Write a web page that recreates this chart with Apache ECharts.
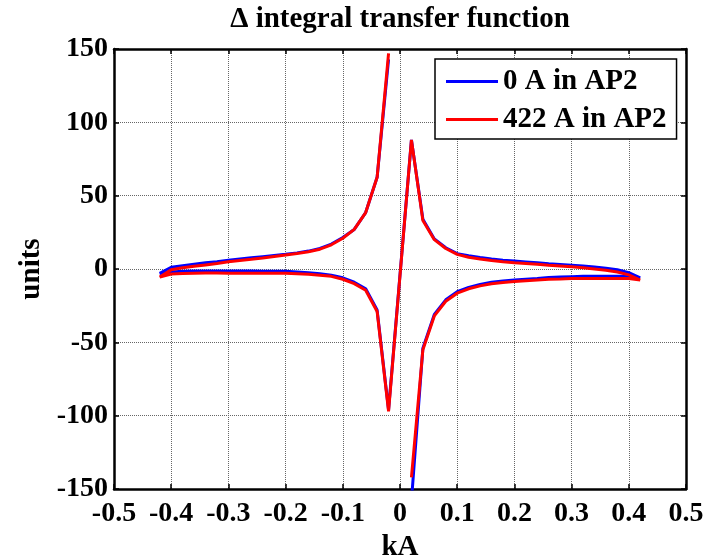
<!DOCTYPE html>
<html>
<head>
<meta charset="utf-8">
<script src="https://cdn.jsdelivr.net/npm/echarts@6/dist/echarts.min.js"></script>
<style>html,body{margin:0;padding:0;background:#fff}#c{width:715px;height:555px}</style>
</head>
<body>
<div id="c"></div>
<script>
// kA positions of the measured points
const xLeft  = [-0.42,-0.40,-0.38,-0.36,-0.34,-0.32,-0.30,-0.28,-0.26,-0.24,-0.22,-0.20,-0.18,-0.16,-0.14,-0.12,-0.10,-0.08,-0.06,-0.04,-0.02];
const xRight = [0.02,0.04,0.06,0.08,0.10,0.12,0.14,0.16,0.18,0.20,0.22,0.24,0.26,0.28,0.30,0.32,0.34,0.36,0.38,0.40,0.42];

// 0 A in AP2 (blue)
const blueUpperLeft  = [-3,1.2,2.2,3.2,4.2,5,6,6.8,7.6,8.4,9.2,10,11,12.2,14,17,21.5,27,38.5,62.5,143];
const blueLowerLeft  = [-3,-2,-1.6,-1.4,-1.3,-1.3,-1.4,-1.4,-1.4,-1.5,-1.5,-1.6,-2,-2.6,-3.2,-4.2,-6,-9,-13.5,-28,-96];
const blueUpperRight = [88,34,20.5,14.5,10.5,9,7.8,6.8,6,5.4,4.8,4.2,3.5,3,2.5,2,1.3,0.5,-0.5,-2.5,-6];
const blueLowerRight = [-158,-54,-31,-21,-15.5,-12.5,-10.5,-9,-8.2,-7.5,-7,-6.5,-5.8,-5.5,-5.2,-5,-4.9,-4.9,-4.9,-5,-6];

// 422 A in AP2 (red)
const redUpperLeft  = [-5.5,-0.5,0.8,1.8,2.8,3.8,5,5.8,6.6,7.5,8.5,9.5,10.5,11.8,13.5,16.5,21,27,38.5,62.5,147];
const redLowerLeft  = [-5.5,-3.4,-3,-2.9,-2.8,-2.8,-2.9,-2.9,-2.9,-2.9,-2.9,-2.9,-3.2,-3.6,-4.2,-5,-7,-10,-14.5,-29,-97];
const redUpperRight = [88,33,20,14,10,8,6.8,5.8,5,4.3,3.8,3.2,2.5,2,1.5,0.8,0,-0.8,-2,-4,-7.5];
const redLowerRight = [-142,-55,-32,-22,-16.5,-13.5,-11.5,-10,-9.2,-8.6,-8,-7.5,-7,-6.8,-6.5,-6.4,-6.4,-6.4,-6.4,-6.5,-7.5];

const xTicks = [-0.5,-0.4,-0.3,-0.2,-0.1,0,0.1,0.2,0.3,0.4,0.5];
const yTicks = [-150,-100,-50,0,50,100,150];

function pairs(xs, ys){ return xs.map((x,i)=>[x, ys[i]]); }
function loop(ul, ll, ur, lr){
  const a = pairs(xRight, ur).reverse();
  const b = pairs(xLeft, ll).reverse();
  const c = pairs(xLeft, ul);
  const d = pairs(xRight, lr);
  return a.concat(b, c, [[0,'-']], d);
}

const FONT = '"Liberation Serif", "Times New Roman", serif';
const txt = {fontFamily: FONT, fontWeight: 'bold', color: '#000'};

function xAx(pos, show){
  return {
    type: 'value', position: pos, min: xTicks[0], max: xTicks[xTicks.length-1], interval: 0.1,
    name: show ? 'kA' : '', nameLocation: 'middle', nameGap: 38,
    nameTextStyle: Object.assign({fontSize: 29}, txt),
    axisLine: {show: true, onZero: false, lineStyle: {color: '#000', width: 2.5}},
    axisTick: {show: true, inside: true, length: 5, lineStyle: {color: '#000', width: 1.5}},
    axisLabel: Object.assign({show: show, fontSize: 28, margin: 11}, txt),
    splitLine: {show: show, lineStyle: {color: '#666', type: 'dotted', width: 1}}
  };
}
function yAx(pos, show){
  return {
    type: 'value', position: pos, min: yTicks[0], max: yTicks[yTicks.length-1], interval: 50,
    name: show ? 'units' : '', nameLocation: 'middle', nameGap: 67,
    nameTextStyle: Object.assign({fontSize: 29}, txt),
    axisLine: {show: true, onZero: false, lineStyle: {color: '#000', width: 2.5}},
    axisTick: {show: true, inside: true, length: 5, lineStyle: {color: '#000', width: 1.5}},
    axisLabel: Object.assign({show: show, fontSize: 28, margin: 6}, txt),
    splitLine: {show: show, lineStyle: {color: '#666', type: 'dotted', width: 1}}
  };
}

const chart = echarts.init(document.getElementById('c'), null, {renderer: 'canvas'});
chart.setOption({
  animation: false,
  backgroundColor: '#fff',
  title: {
    text: '\u0394 integral transfer function', left: 395, textAlign: 'center', top: 0, padding: [5,5,5,5],
    textStyle: Object.assign({fontSize: 29}, txt)
  },
  grid: {left: 114, right: 29, top: 49, bottom: 66, containLabel: false, outerBoundsMode: 'none'},
  xAxis: [xAx('bottom', true), xAx('top', false)],
  yAxis: [yAx('left', true), yAx('right', false)],
  legend: {
    left: 435, top: 59, orient: 'vertical',
    padding: [8, 10, 5, 11], itemGap: 9, itemWidth: 52, itemHeight: 3, icon: 'rect',
    borderColor: '#000', borderWidth: 1.5, backgroundColor: '#fff',
    textStyle: Object.assign({fontSize: 29}, txt),
    data: ['0 A in AP2', '422 A in AP2']
  },
  series: [
    {name: '0 A in AP2', type: 'line', data: loop(blueUpperLeft, blueLowerLeft, blueUpperRight, blueLowerRight),
     showSymbol: false, connectNulls: false, clip: true, color: '#0000ff', lineStyle: {width: 3, color: '#0000ff'}, z: 2},
    {name: '422 A in AP2', type: 'line', data: loop(redUpperLeft, redLowerLeft, redUpperRight, redLowerRight),
     showSymbol: false, connectNulls: false, clip: true, color: '#ff0000', lineStyle: {width: 3, color: '#ff0000'}, z: 3}
  ]
});
</script>
</body>
</html>
